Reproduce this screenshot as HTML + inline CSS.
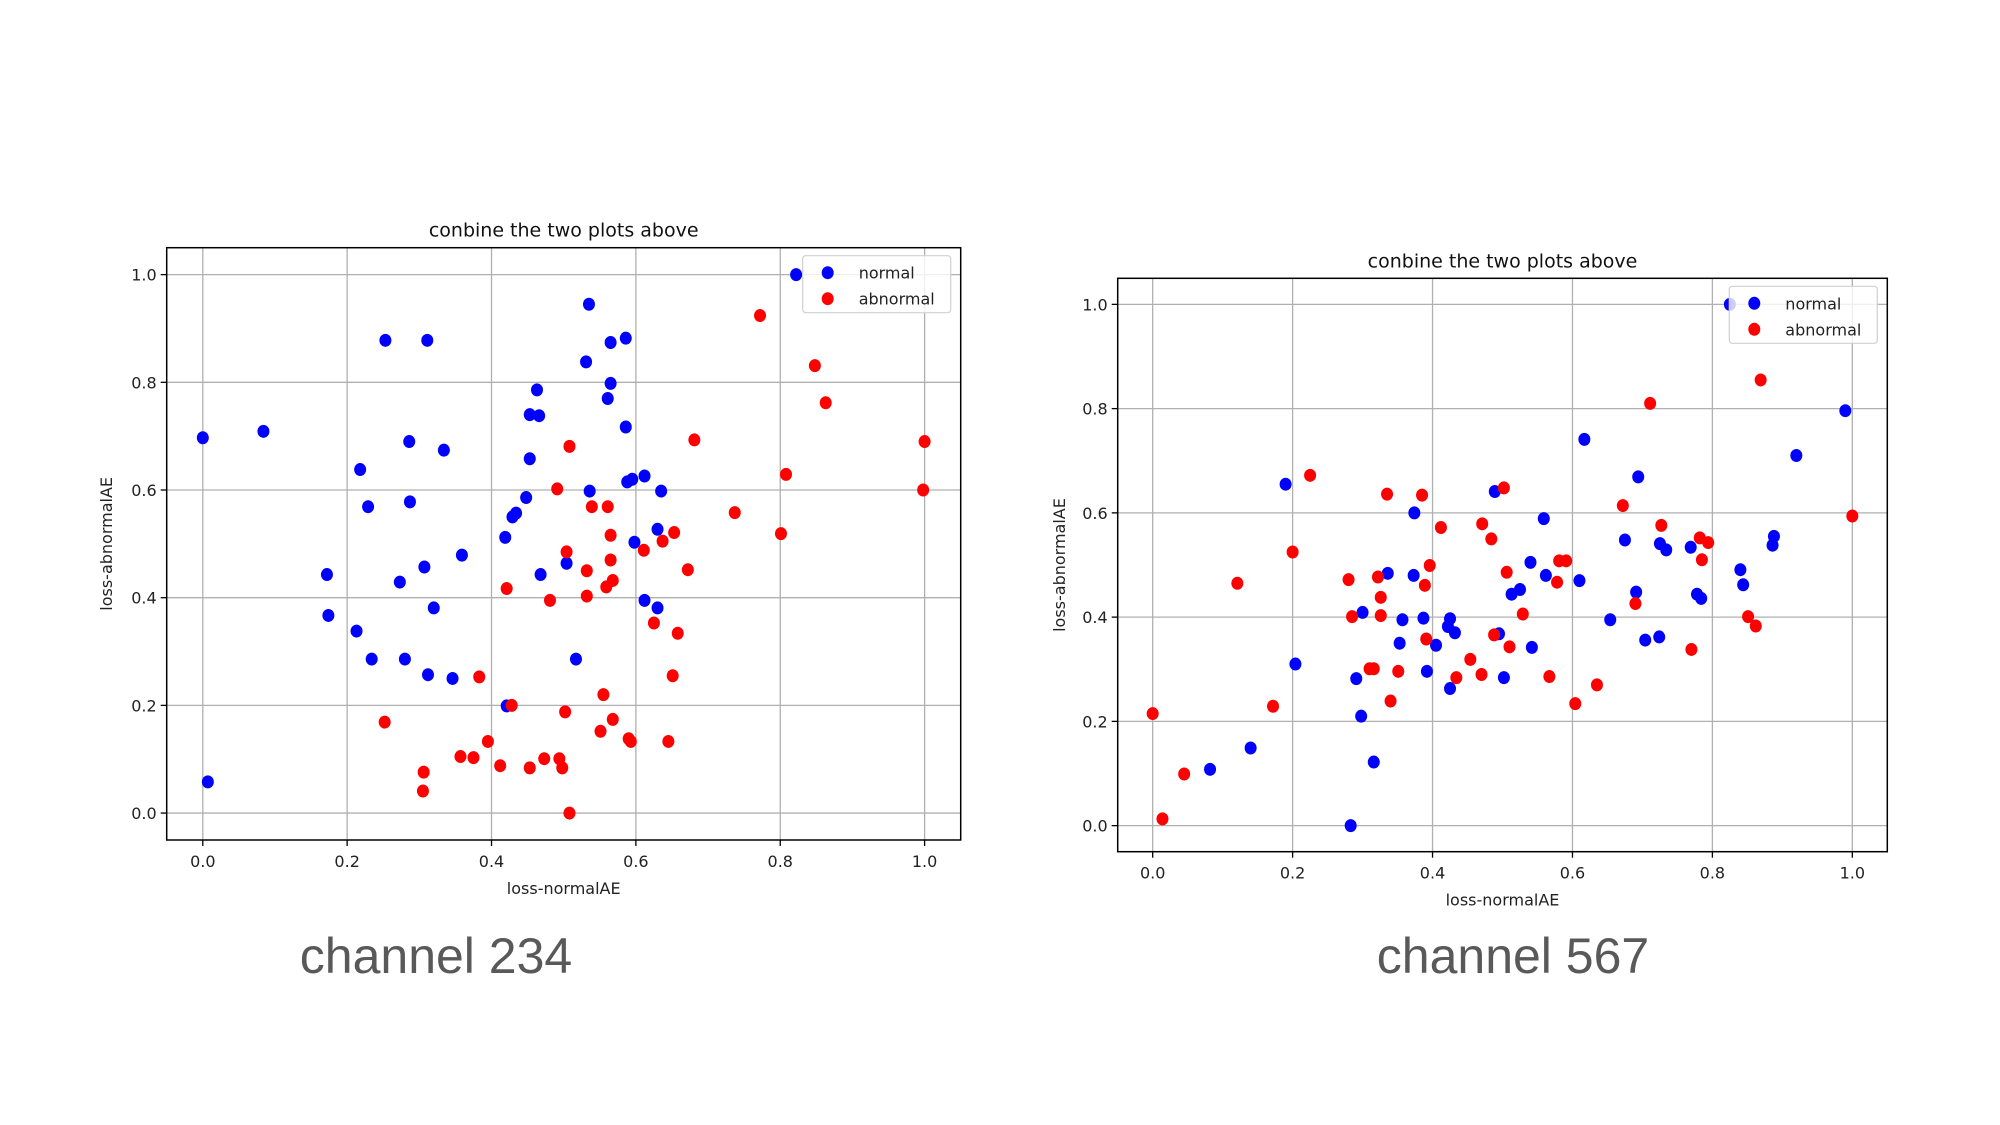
<!DOCTYPE html>
<html><head><meta charset="utf-8"><style>
html,body{margin:0;padding:0;background:#fff;}
svg{display:block;font-family:"DejaVu Sans","Liberation Sans",sans-serif;}
</style></head><body>
<svg id="root" width="2000" height="1125" viewBox="0 0 2000 1125" xmlns="http://www.w3.org/2000/svg">
<rect width="2000" height="1125" fill="#fff"/>
<text x="436" y="973" text-anchor="middle" font-family="Liberation Sans, sans-serif" font-size="50" fill="#595959">channel 234</text>
<text x="1513" y="973" text-anchor="middle" font-family="Liberation Sans, sans-serif" font-size="50" fill="#595959">channel 567</text>
</svg>
<script>
const ticks = [0, 0.2, 0.4, 0.6, 0.8, 1.0];
const tickLabels = ["0.0", "0.2", "0.4", "0.6", "0.8", "1.0"];
const seriesNames = ["normal", "abnormal"];
const seriesColors = ["#0000ff", "#ff0000"];

const p1NormalX = [0,0.084,0.007,0.172,0.174,0.213,0.218,0.229,0.234,0.253,0.311,0.286,0.287,0.273,0.280,0.307,0.320,0.312,0.334,0.359,0.346,0.419,0.421,0.429,0.434,0.448,0.453,0.453,0.466,0.463,0.468,0.504,0.517,0.531,0.535,0.536,0.561,0.565,0.565,0.586,0.586,0.588,0.595,0.598,0.612,0.612,0.635,0.630,0.630,0.822];
const p1NormalY = [0.697,0.709,0.058,0.443,0.367,0.338,0.638,0.569,0.286,0.878,0.878,0.690,0.578,0.429,0.286,0.457,0.381,0.257,0.674,0.479,0.250,0.512,0.199,0.550,0.557,0.586,0.658,0.740,0.738,0.786,0.443,0.464,0.286,0.838,0.945,0.598,0.770,0.798,0.874,0.882,0.717,0.615,0.620,0.503,0.626,0.395,0.598,0.527,0.381,1.0];
const p1AbnX = [0.252,0.306,0.305,0.357,0.375,0.383,0.395,0.412,0.421,0.428,0.453,0.473,0.481,0.491,0.494,0.498,0.502,0.504,0.508,0.508,0.532,0.532,0.539,0.551,0.555,0.559,0.561,0.565,0.565,0.568,0.568,0.590,0.593,0.611,0.625,0.637,0.645,0.653,0.651,0.658,0.672,0.681,0.737,0.772,0.801,0.808,0.848,0.863,1.0,0.998];
const p1AbnY = [0.169,0.076,0.041,0.105,0.103,0.253,0.133,0.088,0.417,0.200,0.084,0.101,0.395,0.602,0.101,0.084,0.188,0.485,0.681,0.0,0.450,0.403,0.569,0.152,0.220,0.420,0.569,0.516,0.470,0.432,0.174,0.138,0.133,0.488,0.353,0.505,0.133,0.521,0.255,0.334,0.452,0.693,0.558,0.924,0.519,0.629,0.831,0.762,0.690,0.600];

const p2NormalX = [0.082,0.140,0.190,0.204,0.283,0.291,0.298,0.300,0.316,0.336,0.353,0.357,0.373,0.374,0.387,0.392,0.405,0.422,0.425,0.425,0.432,0.489,0.495,0.502,0.513,0.525,0.540,0.542,0.559,0.562,0.610,0.617,0.654,0.675,0.691,0.694,0.704,0.724,0.725,0.734,0.769,0.778,0.784,0.825,0.840,0.844,0.886,0.888,0.920,0.990];
const p2NormalY = [0.108,0.149,0.655,0.310,0.0,0.282,0.210,0.409,0.122,0.484,0.350,0.395,0.480,0.600,0.398,0.296,0.346,0.382,0.397,0.263,0.370,0.641,0.368,0.284,0.444,0.453,0.505,0.342,0.589,0.480,0.470,0.741,0.395,0.548,0.448,0.669,0.356,0.362,0.541,0.529,0.534,0.444,0.436,1.0,0.491,0.462,0.538,0.555,0.710,0.796];
const p2AbnX = [0.0,0.014,0.045,0.121,0.172,0.200,0.225,0.280,0.285,0.310,0.316,0.322,0.326,0.326,0.335,0.340,0.351,0.385,0.389,0.391,0.396,0.412,0.434,0.454,0.471,0.470,0.484,0.488,0.502,0.506,0.510,0.529,0.567,0.578,0.581,0.591,0.604,0.635,0.672,0.690,0.711,0.727,0.770,0.782,0.785,0.794,0.851,0.862,0.869,1.0];
const p2AbnY = [0.215,0.013,0.099,0.465,0.229,0.525,0.672,0.472,0.401,0.301,0.301,0.477,0.438,0.403,0.636,0.239,0.296,0.634,0.461,0.358,0.499,0.572,0.284,0.319,0.579,0.290,0.550,0.366,0.648,0.486,0.343,0.406,0.286,0.467,0.508,0.508,0.234,0.270,0.614,0.426,0.810,0.576,0.338,0.552,0.510,0.543,0.401,0.383,0.855,0.594];

const NS = "http://www.w3.org/2000/svg";
const root = document.getElementById('root');
function mk(tag, attrs, parent, txt){
  const e = document.createElementNS(NS, tag);
  for (const k in attrs) e.setAttribute(k, attrs[k]);
  if (txt !== undefined) e.textContent = txt;
  parent.appendChild(e);
  return e;
}
function drawChart(cfg){
  const g = mk('g', {}, root);
  
  
  const L = cfg.L, R = cfg.R, T = cfg.T, B = cfg.B;
  const xs = v => L + (v + 0.05) / 1.1 * (R - L);
  const ys = v => B - (v + 0.05) / 1.1 * (B - T);
  ticks.forEach((t, i) => {
    const gx = mk('line', {x1: xs(t), x2: xs(t), y1: T, y2: B, stroke: '#b0b0b0', 'stroke-width': 1.3}, g);
    
    
    const gy = mk('line', {x1: L, x2: R, y1: ys(t), y2: ys(t), stroke: '#b0b0b0', 'stroke-width': 1.3}, g);
    
    
    const tx = mk('line', {x1: xs(t), x2: xs(t), y1: B, y2: B + 6, stroke: '#000', 'stroke-width': 1.3}, g);
    
    
    const ty = mk('line', {x1: L - 6, x2: L, y1: ys(t), y2: ys(t), stroke: '#000', 'stroke-width': 1.3}, g);
    
    
    const lx = mk('text', {x: xs(t), y: B + 27, 'text-anchor': 'middle', 'font-size': 16, fill: '#222'}, g, tickLabels[i]);
    
    
    const ly = mk('text', {x: L - 10, y: ys(t) + 6, 'text-anchor': 'end', 'font-size': 16, fill: '#222'}, g, tickLabels[i]);
    
    
  });
  const sets = [[cfg.nx, cfg.ny], [cfg.ax, cfg.ay]];
  sets.forEach((s, si) => {
    s[0].forEach((xv, i) => {
      const c = mk('ellipse', {cx: xs(xv), cy: ys(s[1][i]), rx: 6, ry: 6.5, fill: seriesColors[si]}, g);
      
      
    });
  });
  const fr = mk('rect', {x: L, y: T, width: R - L, height: B - T, fill: 'none', stroke: '#000', 'stroke-width': 1.5}, g);
  
  
  const ti = mk('text', {x: (L + R) / 2, y: T - 11, 'text-anchor': 'middle', 'font-size': 19, fill: '#111'}, g, 'conbine the two plots above');
  
  
  const xl = mk('text', {x: (L + R) / 2, y: B + 54, 'text-anchor': 'middle', 'font-size': 16, fill: '#222'}, g, 'loss-normalAE');
  
  
  const yc = (T + B) / 2, yx = cfg.ylx;
  const yl = mk('text', {x: yx, y: yc, 'text-anchor': 'middle', 'font-size': 16, fill: '#222', transform: 'rotate(-90 ' + yx + ' ' + yc + ')'}, g, 'loss-abnormalAE');
  
  
  const lg = mk('g', {}, g);
  
  
  const lw = 148, lh = 57, lxp = R - 10 - lw, lyp = T + 8;
  mk('rect', {x: lxp, y: lyp, width: lw, height: lh, rx: 3, fill: 'rgba(255,255,255,0.8)', stroke: '#d0d0d0', 'stroke-width': 1.2}, lg);
  seriesNames.forEach((n, i) => {
    const e = mk('g', {}, lg);
    
    
    mk('ellipse', {cx: lxp + 25, cy: lyp + 17 + i * 26, rx: 6, ry: 6.5, fill: seriesColors[i]}, e);
    mk('text', {x: lxp + 56, y: lyp + 23 + i * 26, 'font-size': 16, fill: '#222'}, e, n);
  });
}
drawChart({name: 'chart-channel-234', L: 166.7, R: 960.7, T: 247.7, B: 840, ylx: 112,
  nx: p1NormalX, ny: p1NormalY, ax: p1AbnX, ay: p1AbnY});
drawChart({name: 'chart-channel-567', L: 1117.7, R: 1887.3, T: 278.3, B: 851.7, ylx: 1065,
  nx: p2NormalX, ny: p2NormalY, ax: p2AbnX, ay: p2AbnY});
</script>
</body></html>
